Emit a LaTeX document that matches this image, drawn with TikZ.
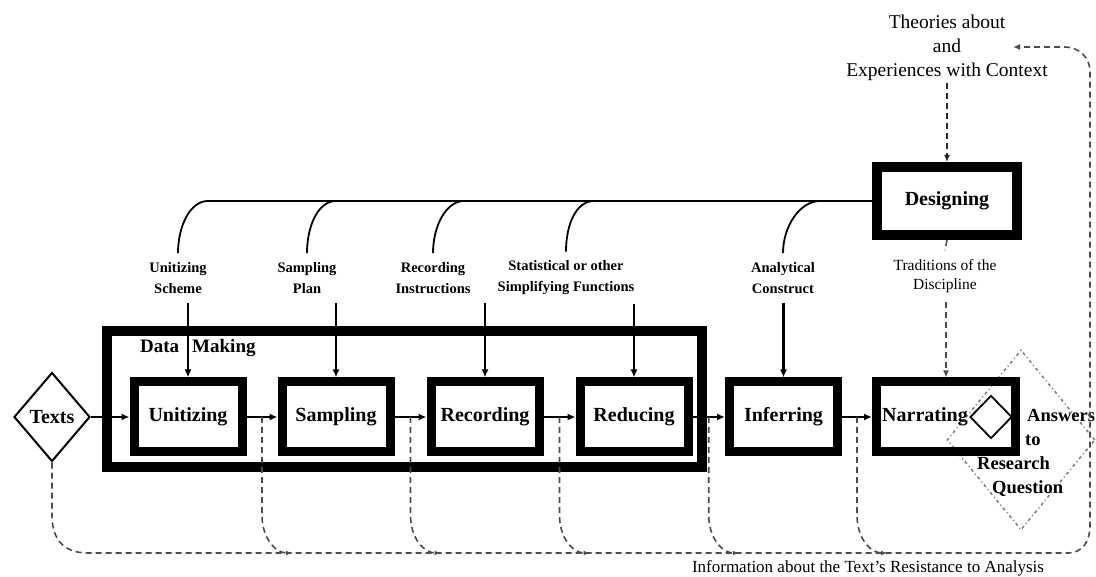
\documentclass[tikz,border=0pt]{standalone}
\usepackage{fontspec}
\setmainfont{Liberation Serif}
\usetikzlibrary{shapes.geometric,arrows.meta,calc}
\begin{document}
\begin{tikzpicture}[x=1pt,y=-1pt,
  box/.style={draw, line width=9pt, minimum width=108pt, minimum height=70pt, inner sep=0pt,
              font=\fontsize{20}{24}\selectfont\bfseries},
  flow/.style={line width=2.4pt, -{Latex[length=8pt,width=7pt]}},
  lab/.style={font=\fontsize{14.5}{21}\selectfont\bfseries, align=center, inner xsep=2pt, inner ysep=9pt},
  branch/.style={line width=1.8pt},
  fb/.style={draw=black!70, line width=1.6pt, dash pattern=on 6pt off 4pt},
  fbarrow/.style={fb, -{Latex[length=7pt,width=6pt]}},
]
\useasboundingbox (0,0) rectangle (1096,577);

% big dotted diamond (background)
\node[diamond, draw=black!55, line width=1.4pt, dash pattern=on 3pt off 3pt on 1pt off 3pt,
      minimum width=148pt, minimum height=180pt, inner sep=0pt] (qd) at (1021,440) {};

% texts diamond
\node[diamond, draw, line width=2pt, minimum width=76pt, minimum height=89pt, inner sep=0pt,
      font=\fontsize{20}{24}\selectfont\bfseries] (texts) at (52,417) {Texts};

% data making frame
\node[draw, line width=10pt, minimum width=595pt, minimum height=136pt, inner sep=0pt] (dm) at (404.5,399) {};
\node[anchor=west, font=\fontsize{19}{23}\selectfont\bfseries, inner sep=0pt] (dmlab) at (140,348) {Data\hspace*{13pt}Making};

% process boxes
\node[box] (unit) at (188,417) {Unitizing};
\node[box] (samp) at (336,417) {Sampling};
\node[box] (rec) at (485,417) {Recording};
\node[box] (red) at (634,417) {Reducing};
\node[box] (inf) at (783.5,417) {Inferring};
\node[box, minimum width=139pt] (narr) at (946,417) {Narrating\hspace*{42pt}};
\node[box, line width=10pt, minimum width=140pt, minimum height=68pt] (des) at (947,201) {Designing};

% answer diamond and text
\node[diamond, draw, line width=1.8pt, minimum width=42pt, minimum height=43pt, inner sep=0pt] (ansd) at (991,417) {};
\node[anchor=north west, align=left, font=\fontsize{18.5}{24}\selectfont\bfseries, inner sep=0pt] (ans) at (977,409)
  {\hspace*{50pt}Answers\\\hspace*{48pt}to\\Research\\\hspace*{15pt}Question};

% labels
\node[lab] (l1) at (178,278) {Unitizing\\Scheme};
\node[lab] (l2) at (307,278) {Sampling\\Plan};
\node[lab] (l3) at (433,278) {Recording\\Instructions};
\node[lab] (l4) at (566,278) {Statistical or other\\Simplifying Functions};
\node[lab] (l5) at (783,278) {Analytical\\Construct};
\node[lab, font=\fontsize{15.5}{19}\selectfont] (l6) at (945,276) {Traditions of the\\Discipline};

\node[align=center, font=\fontsize{19.5}{24}\selectfont, inner sep=2pt] (theo) at (947,48)
  {Theories about\\and\\Experiences with Context};
\node[font=\fontsize{17}{20}\selectfont, inner sep=0pt] (info) at (868,568)
  {Information about the Text's Resistance to Analysis};

% main flow
\draw[flow] (texts.east) -- (unit.west);
\draw[flow] (unit.east) -- (samp.west);
\draw[flow] (samp.east) -- (rec.west);
\draw[flow] (rec.east) -- (red.west);
\draw[flow] (red.east) -- (inf.west);
\draw[flow] (inf.east) -- (narr.west);

% vertical inputs
\draw[flow] (unit.north |- l1.south) -- (unit.north);
\draw[flow] (samp.north |- l2.south) -- (samp.north);
\draw[flow] (rec.north |- l3.south) -- (rec.north);
\draw[flow] (red.north |- l4.south) -- (red.north);
\draw[flow] (inf.north |- l5.south) -- (inf.north);

% designing branches
\coordinate (j1) at (208,201);
\coordinate (j2) at (336,201);
\coordinate (j3) at (464,201);
\coordinate (j4) at (594,201);
\coordinate (j5) at (820,201);
\draw[branch] (des.west) -- (j1);
\draw[branch] (l1.north) .. controls +(0,-27) and +(-18,0) .. (j1);
\draw[branch] (l2.north) .. controls +(0,-27) and +(-18,0) .. (j2);
\draw[branch] (l3.north) .. controls +(0,-27) and +(-18,0) .. (j3);
\draw[branch] (l4.north) .. controls +(0,-27) and +(-18,0) .. (j4);
\draw[branch] (l5.north) .. controls +(0,-27) and +(-20,0) .. (j5);

% dashed context links
\draw[fbarrow, draw=black!85, line width=1.8pt] (theo.south) -- (des.north);
\draw[fb] (des.south) -- (l6.north);
\draw[fbarrow] (narr.north |- l6.south) -- (narr.north);

% feedback loop
\coordinate (fbtip) at (1013,47);
\draw[fbarrow] (texts.south) -- (52,515) .. controls (52,540) and (64,553) .. (88,553)
  -- (1068,553) .. controls (1082,553) and (1090,542) .. (1090,525)
  -- (1090,72) .. controls (1090,58) and (1080,47) .. (1064,47) -- (fbtip);
\foreach \a/\b in {unit/samp, samp/rec, rec/red, red/inf, inf/narr}
  \draw[fb, -{Latex[length=6pt,width=5pt]}] ($(\a.east)!0.5!(\b.west)$) -- ++(0,98)
     .. controls +(0,24) and +(-16,0) .. ++(30,38);
\end{tikzpicture}
\end{document}
